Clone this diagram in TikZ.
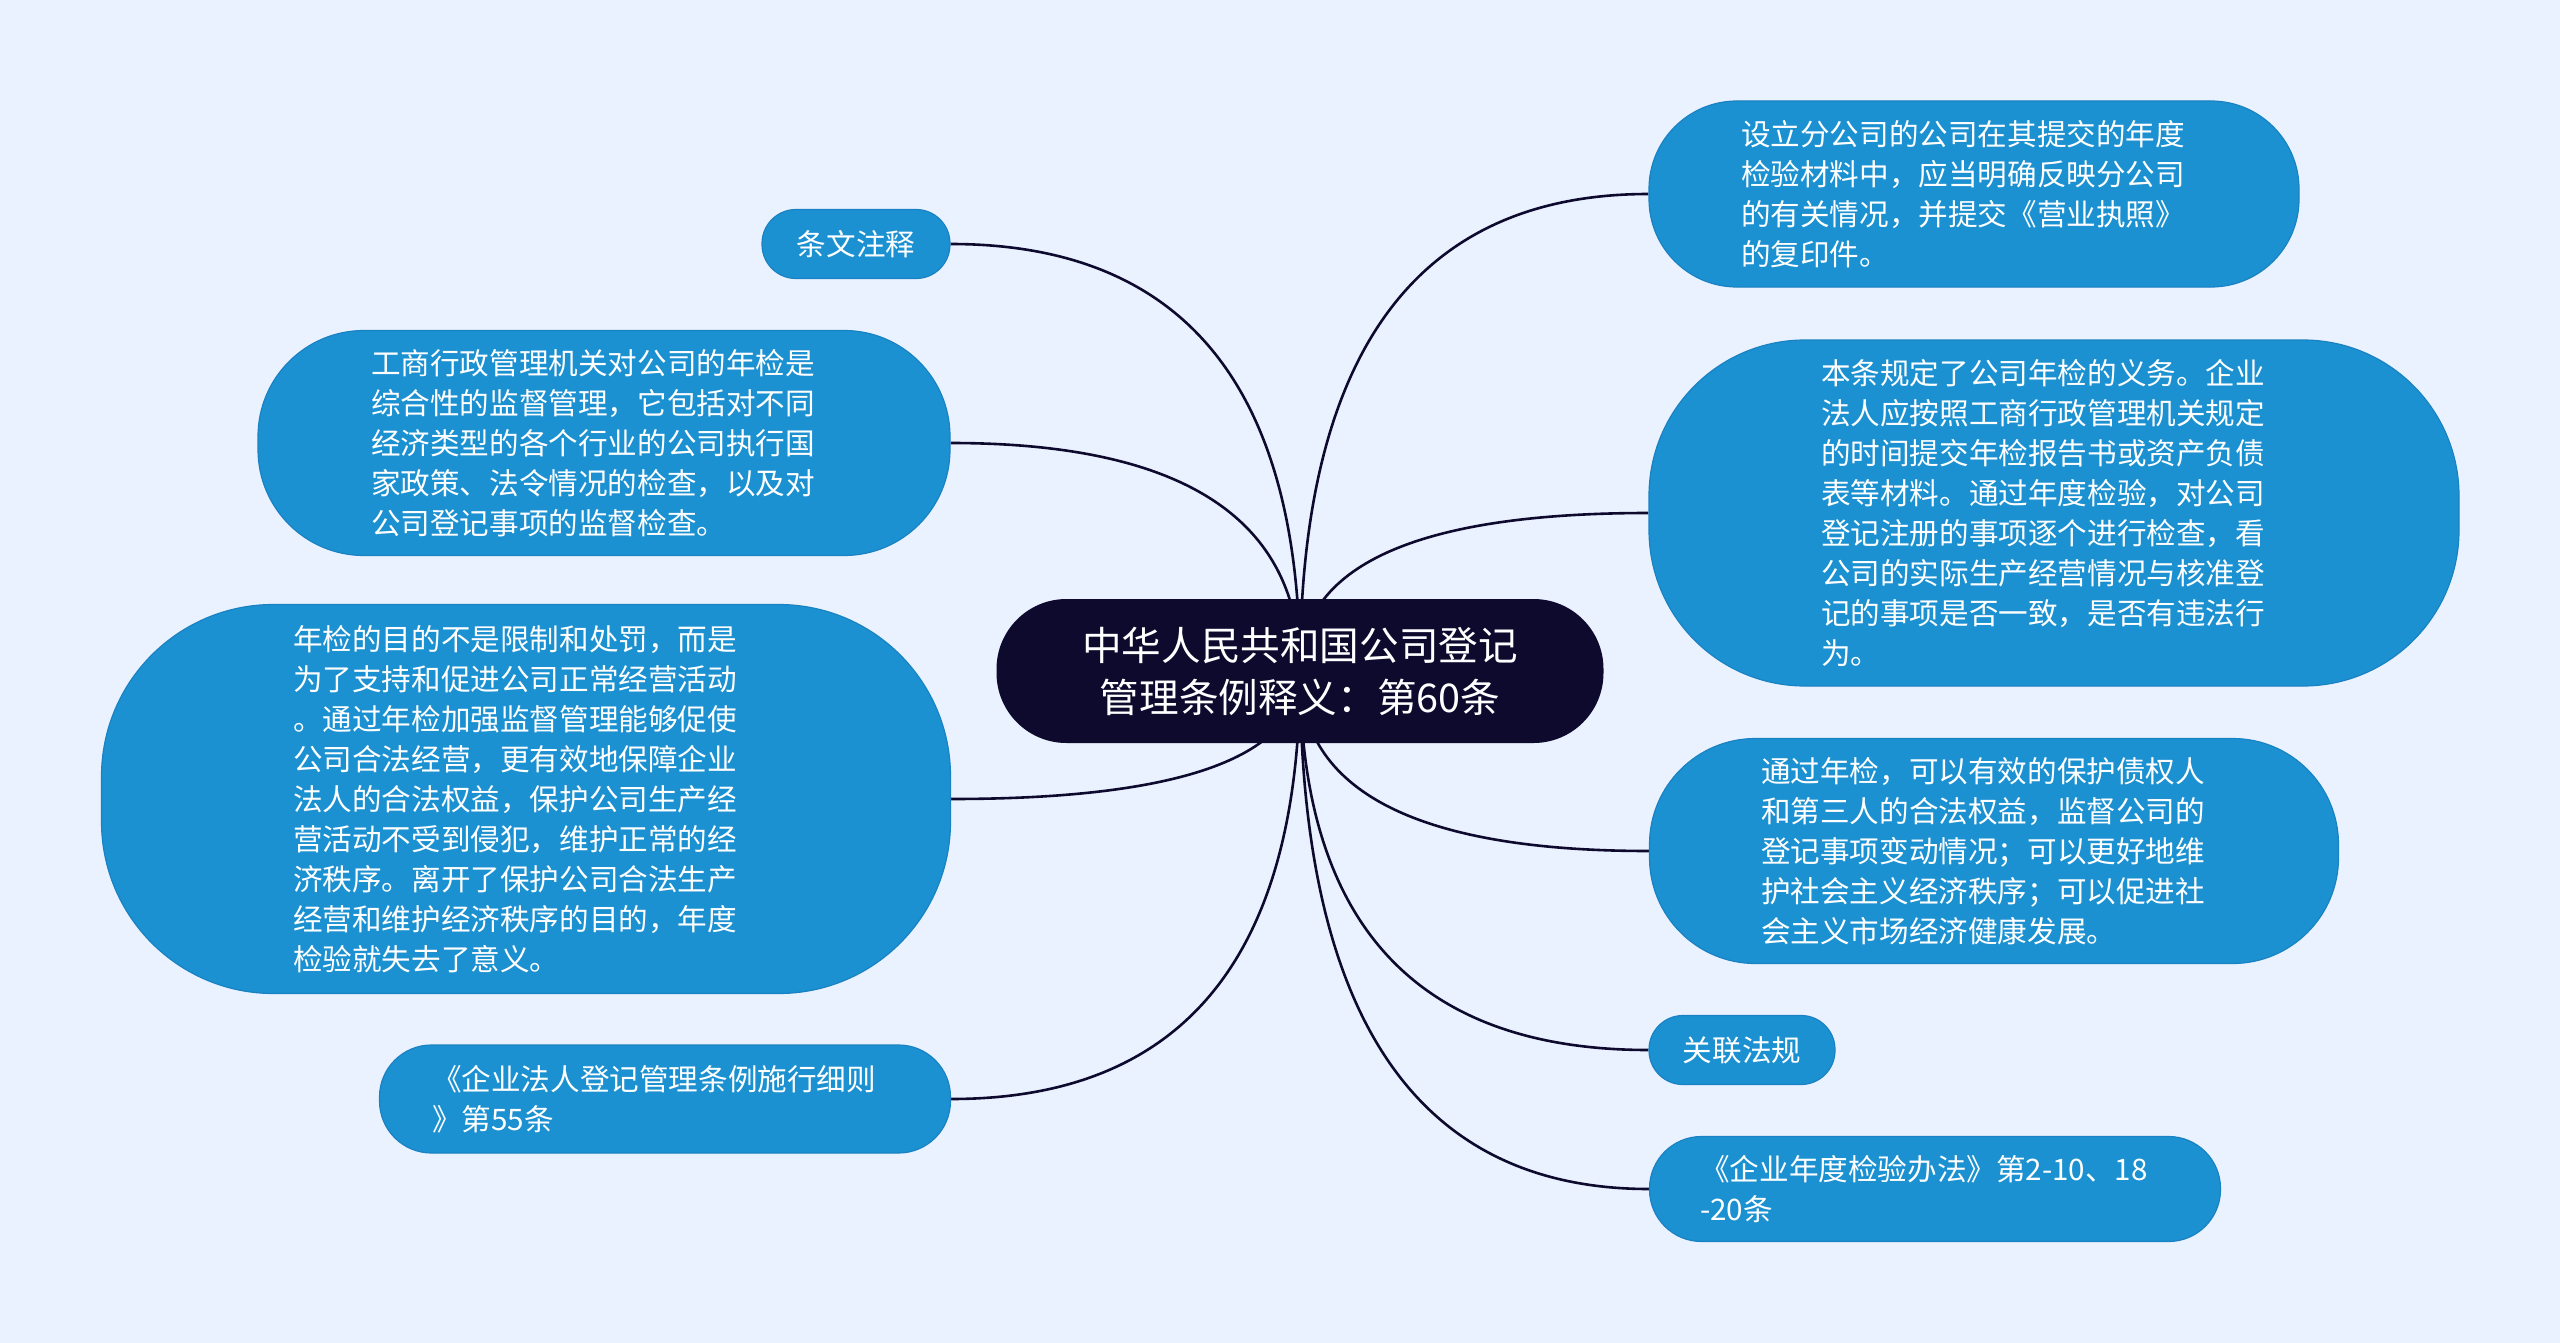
\documentclass[tikz,border=0pt]{standalone}
\usepackage{fontspec}
\newfontfamily\cjk{Noto Sans CJK SC}
\usetikzlibrary{calc}
\definecolor{bgc}{HTML}{EBF2FF}
\definecolor{boxc}{HTML}{1B91D1}
\definecolor{boxedge}{HTML}{1A82C2}
\definecolor{navy}{HTML}{0D0A2E}
\pgfdeclarelayer{bg}
\pgfsetlayers{bg,main}
\tikzset{
  topic/.style={fill=boxc, draw=boxedge, line width=0.6pt, text=white, inner sep=0pt,
    align=left, font=\cjk\fontsize{14.8pt}{20pt}\selectfont},
  hub/.style={fill=navy, text=white, inner sep=0pt, align=center,
    font=\cjk\fontsize{19.8pt}{26pt}\selectfont},
  link/.style={draw=navy, line width=1.3pt},
}
\newcommand\lpad{\hspace*{11pt}}
\newcommand\mmlink[2]{%
  \coordinate (q) at (#1.center |- #2);
  \draw[link] (#1.center) .. controls ($(#1.center)!0.6667!(q)$) and ($(#2)!0.6667!(q)$) .. (#2);
}
\begin{document}
\begin{tikzpicture}[x=0.5pt,y=-0.5pt]
\useasboundingbox (0,0) rectangle (2560,1343);

\node[hub, minimum width=303.5pt, minimum height=72pt, rounded corners=35pt] (c) at (1300,671)
  {中华人民共和国公司登记\\管理条例释义：第60条};

% right side
\node[topic, minimum width=325pt, minimum height=93pt, rounded corners=44pt] (r1) at (1974,194)
  {设立分公司的公司在其提交的年度\lpad\\检验材料中，应当明确反映分公司\\的有关情况，并提交《营业执照》\\的复印件。};
\node[topic, minimum width=405pt, minimum height=173pt, rounded corners=78pt] (r2) at (2054,513)
  {本条规定了公司年检的义务。企业\lpad\\法人应按照工商行政管理机关规定\\的时间提交年检报告书或资产负债\\表等材料。通过年度检验，对公司\\登记注册的事项逐个进行检查，看\\公司的实际生产经营情况与核准登\\记的事项是否一致，是否有违法行\\为。};
\node[topic, minimum width=344.5pt, minimum height=112.5pt, rounded corners=53pt] (r3) at (1994,851)
  {通过年检，可以有效的保护债权人\lpad\\和第三人的合法权益，监督公司的\\登记事项变动情况；可以更好地维\\护社会主义经济秩序；可以促进社\\会主义市场经济健康发展。};
\node[topic, minimum width=93pt, minimum height=34.5pt, rounded corners=17pt] (r4) at (1742,1050)
  {关联法规};
\node[topic, minimum width=285.5pt, minimum height=52.5pt, rounded corners=26pt] (r5) at (1935,1189)
  {《企业年度检验办法》第2-10、18\lpad\\-20条};

% left side
\node[topic, minimum width=94pt, minimum height=34.5pt, rounded corners=17pt] (l1) at (856,244)
  {条文注释};
\node[topic, minimum width=346pt, minimum height=112.5pt, rounded corners=53pt] (l2) at (604,443)
  {工商行政管理机关对公司的年检是\lpad\\综合性的监督管理，它包括对不同\\经济类型的各个行业的公司执行国\\家政策、法令情况的检查，以及对\\公司登记事项的监督检查。};
\node[topic, minimum width=424.5pt, minimum height=194.5pt, rounded corners=86pt] (l3) at (526,799)
  {年检的目的不是限制和处罚，而是\lpad\\为了支持和促进公司正常经营活动\\。通过年检加强监督管理能够促使\\公司合法经营，更有效地保障企业\\法人的合法权益，保护公司生产经\\营活动不受到侵犯，维护正常的经\\济秩序。离开了保护公司合法生产\\经营和维护经济秩序的目的，年度\\检验就失去了意义。};
\node[topic, minimum width=285.5pt, minimum height=54pt, rounded corners=26pt] (l4) at (665,1099)
  {《企业法人登记管理条例施行细则\lpad\\》第55条};

\begin{pgfonlayer}{bg}
  \fill[bgc] (0,0) rectangle (2560,1343);
  \mmlink{c}{r1.west}
  \mmlink{c}{r2.west}
  \mmlink{c}{r3.west}
  \mmlink{c}{r4.west}
  \mmlink{c}{r5.west}
  \mmlink{c}{l1.east}
  \mmlink{c}{l2.east}
  \mmlink{c}{l3.east}
  \mmlink{c}{l4.east}
\end{pgfonlayer}
\end{tikzpicture}
\end{document}
